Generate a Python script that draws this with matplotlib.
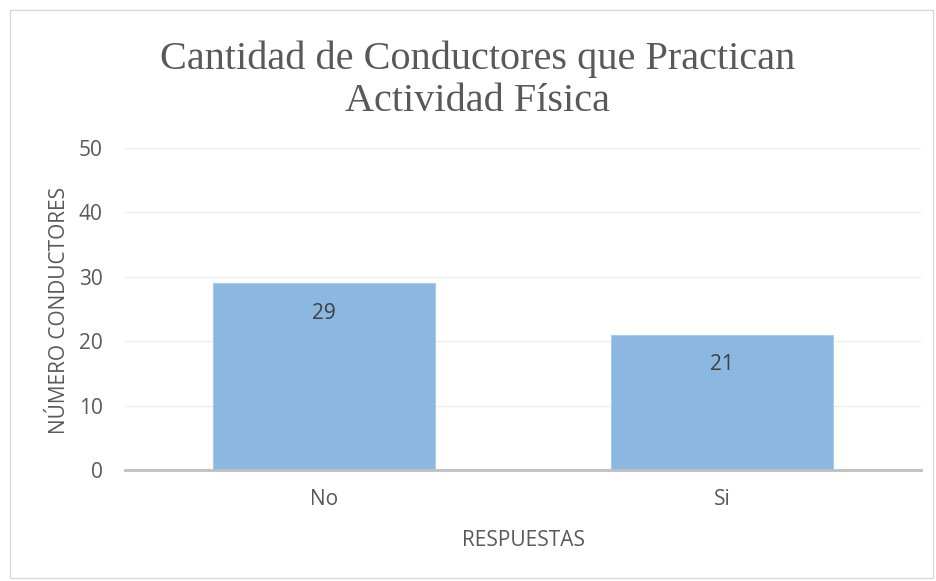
import matplotlib
matplotlib.use("Agg")
import matplotlib.pyplot as plt
from matplotlib.patches import Rectangle

categories = ["No", "Si"]
values = [29, 21]
yticks = [0, 10, 20, 30, 40, 50]
title = "Cantidad de Conductores que Practican\nActividad Física"
xlabel = "RESPUESTAS"
ylabel = "NÚMERO CONDUCTORES"

plt.rcParams['font.family'] = ['Open Sans', 'DejaVu Sans']

fig = plt.figure(figsize=(9.36, 5.81), dpi=100)
fig.patches.append(Rectangle((10/936, 3/581), 923/936, 568/581, transform=fig.transFigure,
                             fill=False, edgecolor="#D9D9D9", linewidth=1))
ax = fig.add_axes([125/936, 1-470/581, 796/936, 322/581])

x = list(range(len(categories)))
ax.bar(x, values, width=0.558, color="#8BB7E1", edgecolor="#A9CBEA", linewidth=0.8, zorder=2)
for xi, v in zip(x, values):
    ax.annotate(str(v), (xi, v), xytext=(0, -30), textcoords="offset pixels",
                ha="center", va="center", fontsize=15, color="#404040")

ax.set_xlim(-0.5, 1.5)
ax.set_ylim(0, 50)
ax.set_yticks(yticks)
ax.set_xticks(x)
ax.set_xticklabels(categories)
ax.tick_params(axis="both", length=0, labelsize=15, labelcolor="#595959")
ax.tick_params(axis="y", pad=16)
ax.tick_params(axis="x", pad=14)
ax.grid(axis="y", color="#EDEDED", linewidth=1, zorder=0)
for s in ["top", "right", "left"]:
    ax.spines[s].set_visible(False)
ax.spines["bottom"].set_color("#BFBFBF")
ax.spines["bottom"].set_linewidth(2)
ax.spines["bottom"].set_zorder(3)

fig.text(523/936, 1-541/581, xlabel, ha="center", va="center", fontsize=15, color="#595959")
fig.text(60/936, 1-310/581, ylabel, ha="center", va="center", rotation=90, fontsize=15, color="#595959")
fig.text(478/936, 1-80/581, title, ha="center", va="center", fontsize=29, color="#595959",
         family="Liberation Serif", linespacing=1.17)

fig.savefig("out.png", dpi=100)
